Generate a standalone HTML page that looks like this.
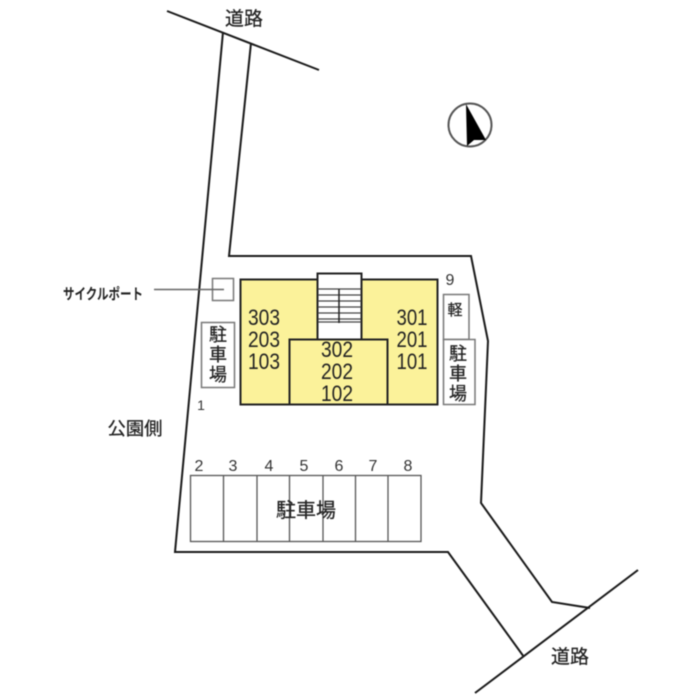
<!DOCTYPE html>
<html>
<head>
<meta charset="utf-8">
<style>
html,body{margin:0;padding:0;background:#fff}
svg{display:block;filter:blur(.4px)}
text{font-family:"Liberation Sans","Noto Sans CJK JP",sans-serif;fill:#222;text-anchor:middle}
.n{font-size:22px}
.d{font-size:16px;fill:#333}
.k{font-size:18px;stroke:#222;stroke-width:.25px}
</style>
</head>
<body>
<svg width="700" height="700" viewBox="0 0 700 700" xmlns="http://www.w3.org/2000/svg">
<rect width="700" height="700" fill="#fff"/>
<!-- roads and lot -->
<g fill="none" stroke="#1a1a1a" stroke-width="2">
<path d="M167 11L319 70"/>
<path d="M223 32L175 552H448L524 657"/>
<path d="M251 43L229 256H471L488 341L481 503L552 602L590 608"/>
<path d="M638 570L475 693"/>
</g>
<!-- north -->
<circle cx="470" cy="125" r="21.500" fill="#fff" stroke="#555" stroke-width="2"/>
<path d="M466 104L486 140L474 140L467 146Z" fill="#000"/>
<!-- bike port -->
<rect x="212.500" y="278.500" width="21" height="22" fill="#fff" stroke="#777" stroke-width="1.500"/>
<path d="M154 289.500H224" stroke="#666" stroke-width="1.500"/>
<!-- building -->
<rect x="240.500" y="279.500" width="197" height="125" fill="#fbf29a" stroke="#222" stroke-width="2"/>
<rect x="317.500" y="273.500" width="44" height="66" fill="#fff" stroke="#222" stroke-width="2"/>
<g stroke="#444" stroke-width="1.300">
<path d="M318 289H361M318 295H361M318 301H361M318 307H361M318 313H361M318 319H361M318 322H361"/>
<path d="M339 289V323" stroke="#222" stroke-width="1.500"/>
</g>
<rect x="289.500" y="339.500" width="98" height="65" fill="#fbf29a" stroke="#222" stroke-width="2"/>
<!-- side parking -->
<g fill="#fff" stroke="#777" stroke-width="1.500">
<rect x="201.500" y="322.500" width="33" height="65"/>
<rect x="443.500" y="294.500" width="25.500" height="45"/>
<rect x="443.500" y="339.500" width="31.500" height="65"/>
</g>
<!-- parking row -->
<g fill="none" stroke="#555" stroke-width="1.300">
<rect x="190.500" y="475.500" width="230.500" height="66"/>
<path d="M223.500 476V541M257 476V541M289.500 476V541M323 476V541M355.500 476V541M388 476V541"/>
</g>
<!-- labels -->
<text x="244" y="25" font-size="19" class="k" style="font-size:19px">道路</text>
<text x="570" y="663" class="k" style="font-size:19px">道路</text>
<g class="n" lengthAdjust="spacingAndGlyphs">
<text class="n" x="264" y="325" textLength="32" lengthAdjust="spacingAndGlyphs">303</text>
<text class="n" x="264" y="347" textLength="32" lengthAdjust="spacingAndGlyphs">203</text>
<text class="n" x="264" y="369" textLength="32" lengthAdjust="spacingAndGlyphs">103</text>
<text class="n" x="412" y="325" textLength="31" lengthAdjust="spacingAndGlyphs">301</text>
<text class="n" x="412" y="347" textLength="31" lengthAdjust="spacingAndGlyphs">201</text>
<text class="n" x="412" y="369" textLength="31" lengthAdjust="spacingAndGlyphs">101</text>
<text class="n" x="337" y="357" textLength="32" lengthAdjust="spacingAndGlyphs">302</text>
<text class="n" x="337" y="379" textLength="32" lengthAdjust="spacingAndGlyphs">202</text>
<text class="n" x="337" y="401" textLength="32" lengthAdjust="spacingAndGlyphs">102</text>
</g>
<text class="k" x="218" y="341">駐</text><text class="k" x="218" y="361">車</text><text class="k" x="218" y="381">場</text>
<text class="k" x="458" y="360">駐</text><text class="k" x="458" y="380">車</text><text class="k" x="458" y="400">場</text>
<text class="k" x="455" y="315" style="font-size:15px">軽</text>
<text class="k" x="306" y="517" style="font-size:20px">駐車場</text>
<text x="103" y="299" font-size="15" font-weight="bold" textLength="80" lengthAdjust="spacingAndGlyphs">サイクルポート</text>
<text class="k" x="135" y="435" textLength="55" lengthAdjust="spacingAndGlyphs">公園側</text>
<text class="d" x="201" y="410" style="font-size:14px">1</text>
<text class="d" x="199" y="471">2</text><text class="d" x="233" y="471">3</text><text class="d" x="269" y="471">4</text><text class="d" x="304" y="471">5</text><text class="d" x="339" y="471">6</text><text class="d" x="373" y="471">7</text><text class="d" x="408" y="471">8</text>
<text class="d" x="450" y="285">9</text>
</svg>
</body>
</html>
